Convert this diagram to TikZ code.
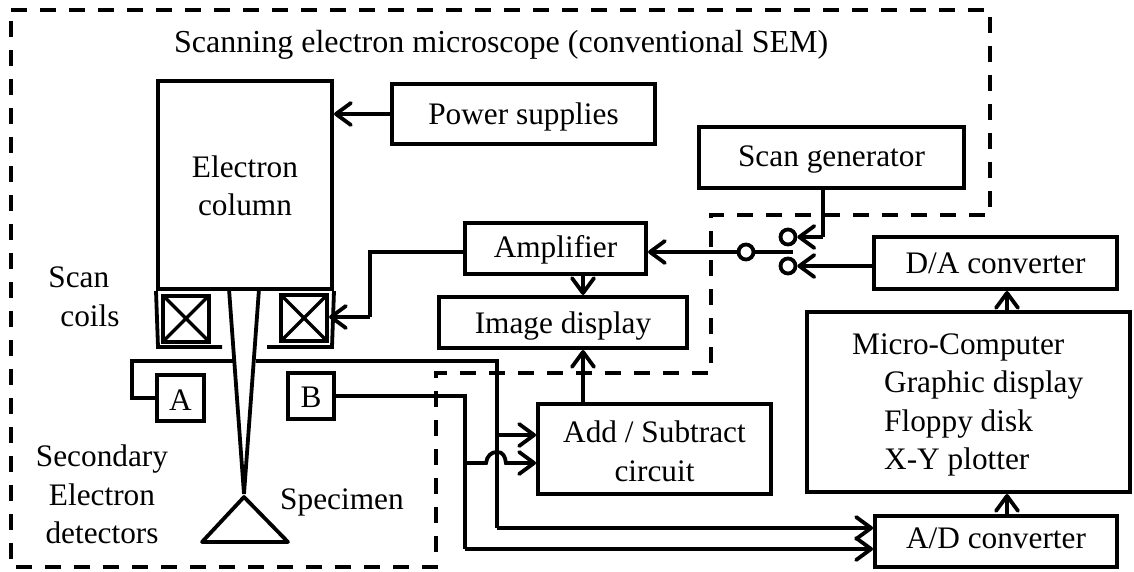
\documentclass[tikz,border=0pt]{standalone}
\usepackage{fontspec}
\setmainfont{Liberation Serif}
\usetikzlibrary{arrows.meta}
\tikzset{
  ln/.style={line width=3.8pt,line join=miter,black},
  arr/.style={ln,-{Straight Barb[length=15pt,width=22pt,line width=3.8pt,round]}},
  boxn/.style={draw,line width=4pt,inner sep=0pt,align=center,text depth=0pt},
  lab/.style={inner sep=0pt,align=left},
  circ/.style={circle,draw,line width=3.8pt,fill=white,minimum size=15pt,inner sep=0pt},
  dsh/.style={line width=4.4pt,dash pattern=on 16pt off 13pt,black},
  coil/.style={boxn,minimum width=46pt,minimum height=46pt,path picture={\draw[line width=3.2pt] (path picture bounding box.north west)--(path picture bounding box.south east) (path picture bounding box.north east)--(path picture bounding box.south west);}},
}
\begin{document}
\begin{tikzpicture}[x=1pt,y=-1pt,font=\fontsize{31.3}{38.5}\selectfont]
\useasboundingbox (0,0) rectangle (1134,572);
% dashed enclosure
\draw[dsh] (11,10) -- (990,10) -- (990,215) -- (711,215) -- (711,373) -- (436,373) -- (436,567) -- (11,567) -- cycle;
% boxes
\node[boxn,minimum width=174pt,minimum height=208pt] (col) at (245,185) {};
\node[lab,align=center] (coltxt) at (245,186) {Electron\\column};
\node[boxn,text height=22pt,minimum width=263pt,minimum height=60pt] (ps) at (523.5,114) {Power supplies};
\node[boxn,text height=19pt,minimum width=265pt,minimum height=61pt] (sg) at (831.5,157.5) {Scan generator};
\node[boxn,text height=17pt,minimum width=181pt,minimum height=51pt] (amp) at (555.5,248.5) {Amplifier};
\node[boxn,text height=21pt,minimum width=248pt,minimum height=51pt] (img) at (563,322.5) {Image display};
\node[boxn,minimum width=233pt,minimum height=90pt] (add) at (654.5,449) {};
\node[lab,align=center] (addtxt) at (654.5,451.5) {Add / Subtract\\circuit};
\node[boxn,text height=20pt,minimum width=243pt,minimum height=52pt] (da) at (995.5,263) {D/A converter};
\node[boxn,minimum width=323pt,minimum height=180pt] (mc) at (968.5,402) {};
\node[boxn,text height=14pt,minimum width=242pt,minimum height=51pt] (ad) at (996,541.5) {A/D converter};
\node[boxn,text height=24pt,minimum width=47pt,minimum height=46pt] (a) at (180.5,398) {A};
\node[boxn,text height=22pt,minimum width=46pt,minimum height=46pt] (b) at (311,396) {B};
% text
\node[lab,anchor=base west,font=\fontsize{32}{38}\selectfont] (title) at (174,53) {Scanning electron microscope (conventional SEM)};
\node[lab] (sc) at (84,297) {Scan\\\hspace*{12pt}coils};
\node[lab,align=center] (sed) at (102,494.5) {Secondary\\Electron\\detectors};
\node[lab,anchor=base west] (spec) at (280,509) {Specimen};
\node[lab,anchor=west] (mct) at (852,405) {Micro-Computer\\\hspace*{32pt}Graphic display\\\hspace*{32pt}Floppy disk\\\hspace*{32pt}X-Y plotter};
% scan coils
\node[coil] (cl) at (186,318.5) {};
\node[coil] (cr) at (304,318) {};
\draw[ln] (col.south west) -- (158,347) -- (222,347);
\draw[ln] (col.south east) -- (332,347) -- (267,347);
% beam and specimen
\coordinate (bl) at (229,289); \coordinate (br) at (259,289); \coordinate (tip) at (244,494);
\draw[ln] (bl) -- (tip) -- (br);
\coordinate (sa) at (244,497);
\coordinate (spb1) at (202,542); \coordinate (spb2) at (288,542);
\draw[ln,line join=round] (sa) -- (spb1) -- (spb2) -- cycle;
% detector wiring
\coordinate (n1) at (233,361); \coordinate (n2) at (256,361); \coordinate (n3) at (497,361);
\coordinate (n4) at (497,435); \coordinate (n5) at (497,528);
\coordinate (m1) at (465,396); \coordinate (m2) at (465,463); \coordinate (m3) at (465,549);
\draw[ln] (a.west) -| (132,361) -- (n1);
\draw[ln] (n2) -- (n3) -- (n5);
\draw[arr] (n5) -- (ad.west |- n5);
\draw[arr] (n4) -- (add.west |- n4);
\draw[ln] (b.east) -- (b.east -| m1) -- (m3);
\draw[arr] (m3) -- (ad.west |- m3);
\draw[ln] (m2) -- (486,463) .. controls (487,456) and (491,452) .. (497,452) .. controls (503,452) and (505,456) .. (506,463) -- (512,463);
\draw[arr] (512,463) -- (add.west |- m2);
% other arrows
\coordinate (up1) at (583,0); \coordinate (up2) at (1007,0);
\draw[arr] (add.north -| up1) -- (img.south -| up1);
\draw[arr] (amp.south -| up1) -- (img.north -| up1);
\draw[arr] (ps.west) -- (col.east |- ps.west);
% switch
\node[circ] (s0) at (746,252) {};
\node[circ] (s1) at (788,237) {};
\node[circ] (s2) at (788,266) {};
\coordinate (w1) at (370,317);
\draw[ln] (amp.west |- s0) -- (w1 |- s0) -- (w1);
\draw[arr] (w1) -- (cr.east |- w1);
\coordinate (s0e) at (793,252);
\draw[ln] (s0) -- (s0e);
\draw[arr] (s0) -- (amp.east |- s0);
\coordinate (w2) at (823,237);
\draw[ln] (sg.south -| w2) -- (w2);
\draw[arr] (w2) -- (s1);
\draw[arr] (da.west |- s2) -- (s2);
\draw[arr] (mc.north -| up2) -- (da.south -| up2);
\draw[arr] (ad.north -| up2) -- (mc.south -| up2);
\end{tikzpicture}
\end{document}
